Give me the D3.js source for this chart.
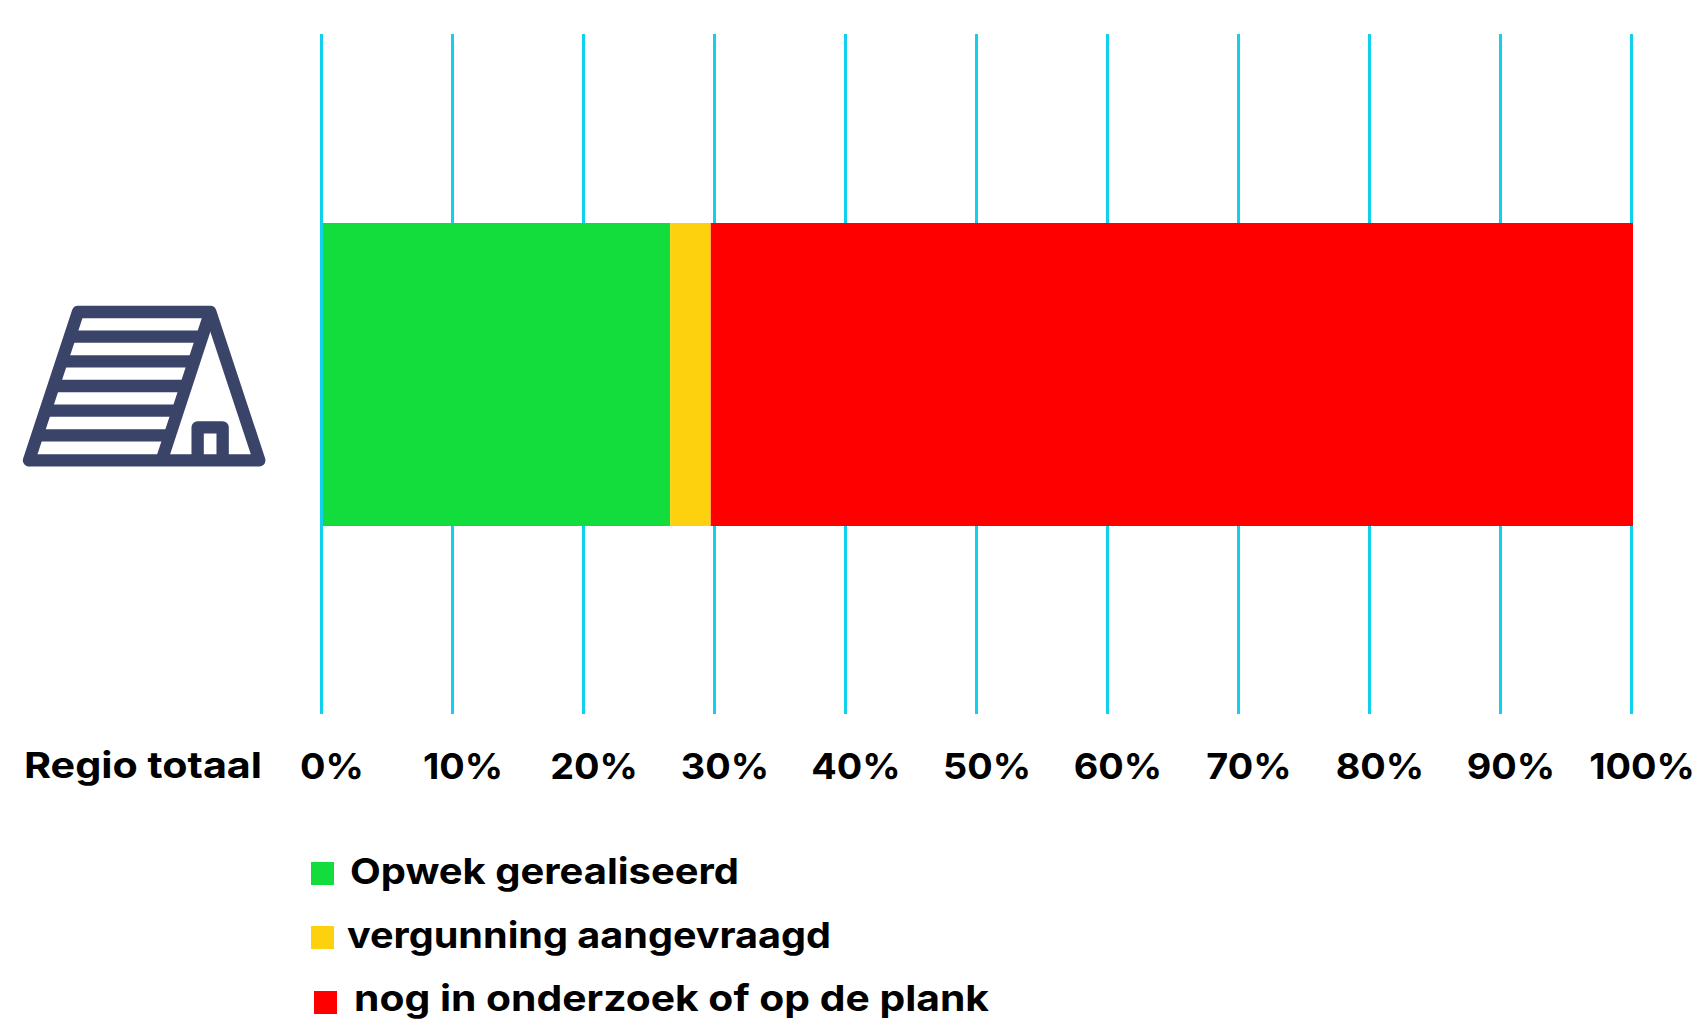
<!DOCTYPE html>
<html>
<head>
<meta charset="utf-8">
<script src="https://cdn.jsdelivr.net/npm/d3@7"></script>
<style>
  html, body { margin: 0; background: #fff; }
  text { font-family: Inter, sans-serif; font-weight: 700; fill: #000; }
</style>
</head>
<body>
<script>
const categories = ["Opwek gerealiseerd", "vergunning aangevraagd", "nog in onderzoek of op de plank"];
const values = [26.5, 3.1, 70.4];
const colors = ["#12dd3c", "#fdd10d", "#ff0000"];
const tickValues = [0, 10, 20, 30, 40, 50, 60, 70, 80, 90, 100];
const rowLabel = "Regio totaal";

const width = 1694, height = 1020;

const svg = d3.select("body").append("svg")
  .attr("width", width)
  .attr("height", height)
  .style("display", "block");

const x = d3.scaleLinear().domain([0, 100]).range([322, 1632]);
const y = d3.scaleBand().domain([rowLabel]).range([223, 526]);

// grid lines + percentage labels, the labels sit a bit right of their line in the original
const axis = d3.axisBottom(x)
  .tickValues(tickValues)
  .tickFormat(d => d + "%")
  .tickSize(-680)
  .tickPadding(39)
  .offset(-0.5);

const axisG = svg.append("g")
  .attr("transform", "translate(0,714)")
  .call(axis);
axisG.select(".domain").remove();
axisG.selectAll("line").attr("stroke", "#10d0ee").attr("stroke-width", 3);
// installed fonts are narrower than the original one, so stretch the text
axisG.selectAll("text")
  .attr("dx", 10)
  .attr("transform", "scale(1.05,1)")
  .style("font-size", "36px")
  .style("font-family", "Inter, sans-serif")
  .style("font-weight", 700)
  .attr("fill", "#000");

// stacked bar
const stack = d3.cumsum(values);
svg.append("g")
  .attr("transform", "translate(1,0)")
  .selectAll("rect")
  .data(values)
  .join("rect")
  .attr("x", (d, i) => x(stack[i] - d))
  .attr("y", y(rowLabel))
  .attr("width", d => x(d) - x(0))
  .attr("height", y.bandwidth())
  .attr("fill", (d, i) => colors[i]);

svg.append("text")
  .attr("x", 24)
  .attr("y", 778)
  .attr("textLength", 238)
  .attr("lengthAdjust", "spacingAndGlyphs")
  .style("font-size", "36px")
  .text(rowLabel);

// legend, each row is placed a little differently in the original
const legendX = [311, 311, 314];
const legendY = [862, 926, 991];
const legendTextX = [350, 347, 354];
const legendTextY = [884, 948, 1011];
const legendTextW = [389, 484, 635];
const legend = svg.append("g").selectAll("g")
  .data(categories)
  .join("g");
legend.append("rect")
  .attr("x", (d, i) => legendX[i])
  .attr("y", (d, i) => legendY[i])
  .attr("width", 23)
  .attr("height", 23)
  .attr("fill", (d, i) => colors[i]);
legend.append("text")
  .attr("x", (d, i) => legendTextX[i])
  .attr("y", (d, i) => legendTextY[i])
  .attr("textLength", (d, i) => legendTextW[i])
  .attr("lengthAdjust", "spacingAndGlyphs")
  .style("font-size", "36px")
  .text(d => d);

// house icon
const slant = 0.33;
const icon = svg.append("g")
  .attr("transform", "translate(0,280) scale(0.3333)")
  .attr("fill", "none")
  .attr("stroke", "#3a4468")
  .attr("stroke-width", 37)
  .attr("stroke-linejoin", "round");
const roofY = 96, floorY = 541;
icon.append("path").attr("d", `M234,${roofY}L87,${floorY}L778,${floorY}L631,${roofY}Z`);
icon.append("path").attr("d", `M631,${roofY}L485,${floorY}`);
icon.append("path").attr("d", `M593,${floorY}V442H668V${floorY}`);
[170, 244, 318, 392, 466].forEach(r => {
  const dx = (r - roofY) * slant;
  icon.append("path").attr("d", `M${234 - dx},${r}H${631 - dx}`);
});
</script>
</body>
</html>
